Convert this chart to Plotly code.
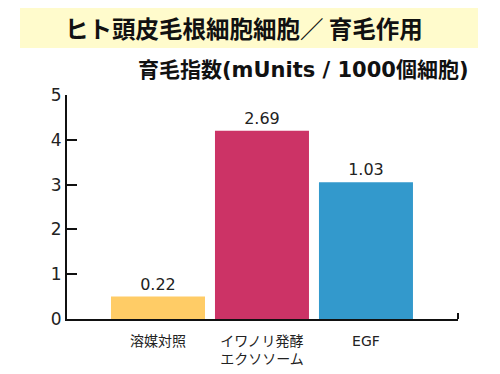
import plotly.graph_objects as go

categories = ["溶媒対照", "イワノリ発酵<br>エクソソーム", "EGF"]
bar_heights = [0.5, 4.2, 3.05]
value_labels = ["0.22", "2.69", "1.03"]
bar_colors = ["#FFCC66", "#CC3366", "#3399CC"]
y_ticks = [0, 1, 2, 3, 4, 5]

# page body has an 8px margin, so layout is expressed in screen pixels minus 8
OFF = 8
W, H = 500 - OFF, 374 - OFF
L, R, T, B = 67 - OFF, 500 - 458, 95 - OFF, 374 - 319
PW, PH = W - L - R, H - T - B

FONT = "Noto Sans CJK JP, Noto Sans, sans-serif"
LATIN = "DejaVu Sans, Noto Sans CJK JP, sans-serif"


def px(x):
    return (x - OFF - L) / PW


def py(y):
    return (H - B - (y - OFF)) / PH


fig = go.Figure(go.Bar(
    x=[0, 1, 2],
    y=bar_heights,
    width=0.904,
    marker=dict(color=bar_colors, line=dict(width=0)),
    text=value_labels,
    textposition="outside",
    textfont=dict(size=16, color="#222", family=LATIN),
    cliponaxis=False,
))

fig.update_layout(
    width=W, height=H,
    margin=dict(l=L, r=R, t=T, b=B, autoexpand=False),
    paper_bgcolor="white", plot_bgcolor="white",
    showlegend=False,
    font=dict(family=FONT, color="#222"),
    xaxis=dict(
        range=[-0.875, 2.885],
        tickmode="array", tickvals=[0, 1, 2], ticktext=categories,
        showline=True, linecolor="#111111", linewidth=2,
        ticks="outside", ticklen=8, tickcolor="rgba(0,0,0,0)",
        showgrid=False, zeroline=False, automargin=False,
        tickfont=dict(size=14, color="#222", family=LATIN),
        layer="above traces",
    ),
    yaxis=dict(
        range=[0, 5],
        tickvals=y_ticks,
        showline=True, linecolor="#111111", linewidth=2,
        ticks="inside", ticklen=10, tickwidth=2, tickcolor="#111111",
        showgrid=False, zeroline=False, automargin=False,
        tickfont=dict(size=17, color="#222", family=LATIN),
        layer="above traces",
    ),
    shapes=[
        dict(type="rect", xref="paper", yref="paper",
             x0=px(20), x1=px(478), y0=py(48), y1=py(8),
             fillcolor="#FFFBCC", line=dict(width=0), layer="below"),
        dict(type="line", xref="paper", yref="paper",
             x0=1, x1=1, y0=0, y1=6 / PH,
             line=dict(color="#111111", width=2)),
    ],
    annotations=[
        dict(text="<b>ヒト頭皮毛根細胞細胞／ 育毛作用</b>", xref="paper", yref="paper",
             x=px(244), y=py(28),
             xanchor="center", yanchor="middle", showarrow=False,
             font=dict(size=23.5, color="#111", family=FONT)),
        dict(text="<b>育毛指数(mUnits / 1000個細胞)</b>", xref="paper", yref="paper",
             x=px(471), y=py(70),
             xanchor="right", yanchor="middle", showarrow=False,
             font=dict(size=21, color="#111", family=LATIN)),
    ],
)

fig.write_html("out.html")
